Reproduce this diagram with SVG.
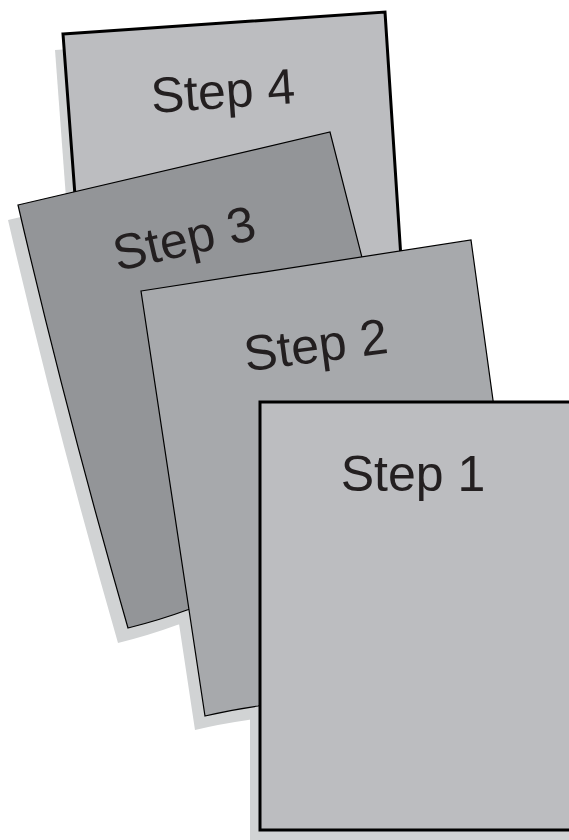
<svg xmlns="http://www.w3.org/2000/svg" width="569" height="840" viewBox="0 0 569 840">
<style>
.shadow{fill:#d1d3d4;stroke:none}
.thick{stroke:#000;stroke-width:3;stroke-linejoin:miter}
.thin{stroke:#000;stroke-width:1.2;stroke-linejoin:miter}
.lbl{font-family:"Liberation Sans",Arial,sans-serif;font-size:50px;fill:#231f20;text-anchor:middle}
</style>
<rect width="569" height="840" fill="#fff"/>
<g id="shadows">
<path class="shadow" transform="translate(-8,16)" d="M63,34 L385,12 L405,320 L85,330 Z"/>
<path class="shadow" transform="translate(-10,15)" d="M18,205 L330,132 L434,540 L187,610 Q160,620 128,628 Q67,416 18,205 Z"/>
<path class="shadow" transform="translate(-10,14)" d="M141,291 L471,240 L528,655 L258,706 Q230,710 205,716 Z"/>
<rect class="shadow" x="250" y="413" width="330" height="440"/>
</g>
<g id="step4">
<path class="thick" fill="#bcbdc0" d="M63,34 L385,12 L405,320 L85,330 Z"/>
<text class="lbl" x="224" y="108" transform="rotate(-3.9 224 108)">Step 4</text>
</g>
<g id="step3">
<path class="thin" fill="#939598" d="M18,205 L330,132 L434,540 L187,610 Q160,620 128,628 Q67,416 18,205 Z"/>
<text class="lbl" x="188" y="255" transform="rotate(-13 188 255)">Step 3</text>
</g>
<g id="step2">
<path class="thin" fill="#a7a9ac" d="M141,291 L471,240 L528,655 L258,706 Q230,710 205,716 Z"/>
<text class="lbl" x="318" y="362" transform="rotate(-7.5 318 362)">Step 2</text>
</g>
<g id="step1">
<rect class="thick" fill="#bcbdc0" x="260" y="402" width="330" height="428"/>
<text class="lbl" x="413" y="491">Step 1</text>
</g>
<g id="connectors"/>
</svg>
